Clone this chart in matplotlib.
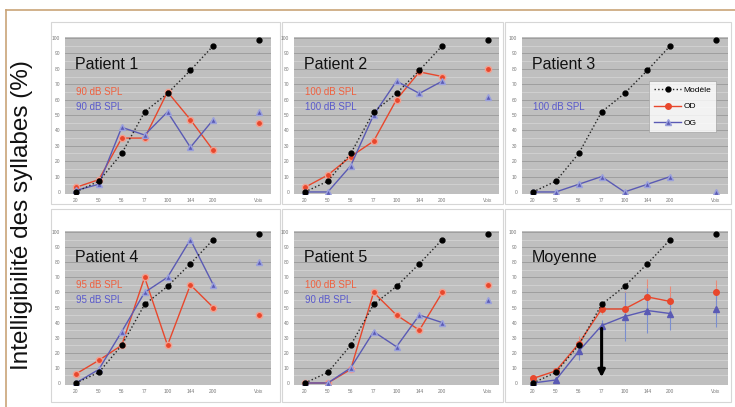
import matplotlib
matplotlib.use("Agg")
import matplotlib.pyplot as plt
import matplotlib.patches as patches
import numpy as np

plt.rcParams['font.family'] = ['Liberation Sans', 'DejaVu Sans']

nan = np.nan

# x categories (index 7 is an empty slot before the last column)
x_labels = ['20', '50', '56', '77', '100', '144', '200', '', 'Voix']
x_pos = np.arange(len(x_labels))
tick_pos = [0, 1, 2, 3, 4, 5, 6, 8]
tick_labels = ['20', '50', '56', '77', '100', '144', '200', 'Voix']

model = [0, 7, 25, 52, 64, 79, 95, nan, 99]

p1_od = [3, 8, 35, 35, 65, 47, 27, nan, 45]
p1_og = [1, 5, 42, 37, 52, 29, 47, nan, 52]
p2_od = [3, 11, 23, 33, 60, 78, 75, nan, 80]
p2_og = [0, 0, 17, 50, 72, 64, 72, nan, 62]
p3_og = [0, 0, 5, 10, 0, 5, 10, nan, 0]
p4_od = [6, 15, 25, 70, 25, 65, 50, nan, 45]
p4_og = [0, 9, 34, 60, 70, 95, 65, nan, 80]
p5_od = [0, 0, 9, 60, 45, 35, 60, nan, 65]
p5_og = [0, 0, 10, 34, 24, 45, 40, nan, 55]
avg_od = [3, 8, 26, 49, 49, 57, 54, nan, 60]
avg_og = [0, 2, 21, 38, 44, 48, 46, nan, 49]
avg_od_err = [1, 2, 5, 3, 12, 12, 10, nan, 8]
avg_og_err = [1, 2, 6, 4, 16, 15, 11, nan, 12]

arrow_x = 3
arrow_from = 38
arrow_to = 2

panels = [
    ('Patient 1', p1_od, p1_og, '90 dB SPL', '90 dB SPL'),
    ('Patient 2', p2_od, p2_og, '100 dB SPL', '100 dB SPL'),
    ('Patient 3', None, p3_og, None, '100 dB SPL'),
    ('Patient 4', p4_od, p4_og, '95 dB SPL', '95 dB SPL'),
    ('Patient 5', p5_od, p5_og, '100 dB SPL', '90 dB SPL'),
    ('Moyenne', avg_od, avg_og, None, None),
]

RED = '#e8472c'
BLUE = '#5a5ab4'
W, H = 735, 407

fig = plt.figure(figsize=(W / 100, H / 100), dpi=100, facecolor='white')


def fig_rect(x0, y0, x1, y1):
    """Pixel box (top-left origin) -> figure fraction rect."""
    return [x0 / W, 1 - y1 / H, (x1 - x0) / W, (y1 - y0) / H]


# outer frame (left + top)
fig.add_artist(plt.Line2D([6 / W, 6 / W], [0, 1 - 10 / H], color='#c9a478',
                          lw=1.2, transform=fig.transFigure, zorder=-2))
fig.add_artist(plt.Line2D([6 / W, 1], [1 - 10 / H, 1 - 10 / H], color='#c9a478',
                          lw=1.2, transform=fig.transFigure, zorder=-2))

box_cols = [(51, 280), (282, 503), (505, 731)]
box_rows = [(22, 204), (209, 402)]
for (by0, by1) in box_rows:
    for (bx0, bx1) in box_cols:
        r = fig_rect(bx0, by0, bx1, by1)
        fig.add_artist(patches.Rectangle((r[0], r[1]), r[2], r[3],
                                         transform=fig.transFigure,
                                         facecolor='white', edgecolor='#d6d6d6',
                                         lw=0.8, zorder=-1))

ax_cols = [(64.5, 270.5), (293.5, 499.5), (521.5, 727.5)]
ax_rows = [(36.5, 193.5), (230.5, 384.5)]

for i, (title, od, og, od_txt, og_txt) in enumerate(panels):
    cx0, cx1 = ax_cols[i % 3]
    ry0, ry1 = ax_rows[i // 3]
    ax = fig.add_axes(fig_rect(cx0, ry0, cx1, ry1))
    ax.set_facecolor('#bfbfbf')
    ax.set_xlim(-0.5, 8.5)
    ax.set_ylim(-1, 101)
    for s in ax.spines.values():
        s.set_visible(False)
    ax.set_yticks(np.arange(0, 101, 10))
    ax.set_yticklabels([str(v) for v in range(0, 101, 10)])
    ax.set_xticks(tick_pos)
    ax.set_xticklabels(tick_labels)
    ax.tick_params(length=0, labelsize=3.5, labelcolor='#777777', pad=3)
    for yv in np.arange(5, 101, 10):
        ax.axhline(yv, color='#d0d0d0', lw=0.7, zorder=0)
    for yv in np.arange(10, 101, 10):
        ax.axhline(yv, color='#999999', lw=0.6, zorder=0)

    ax.plot(x_pos, model, ls=':', color='#222222', lw=1.0, marker='o',
            ms=3.5, mfc='black', mec='black', zorder=4, label='Modèle')

    if title == 'Moyenne':
        ax.errorbar(x_pos, od, yerr=avg_od_err, color=RED, lw=1.0, marker='o',
                    ms=4, ecolor='#e88a78', elinewidth=0.8, capsize=0, zorder=3)
        ax.errorbar(x_pos, og, yerr=avg_og_err, color=BLUE, lw=1.0, marker='^',
                    ms=4, ecolor='#7a8ed0', elinewidth=0.8, capsize=0, zorder=3)
        ax.annotate('', xy=(arrow_x, arrow_to), xytext=(arrow_x, arrow_from),
                    arrowprops=dict(arrowstyle='-|>', color='black', lw=2.2,
                                    mutation_scale=10), zorder=6)
    else:
        if od is not None:
            ax.plot(x_pos, od, color=RED, lw=1.0, marker='o', ms=4.5,
                    mfc=RED, mec='#f2a090', zorder=3, label='OD')
        else:
            ax.plot([], [], color=RED, lw=1.0, marker='o', ms=4, label='OD')
        ax.plot(x_pos, og, color=BLUE, lw=1.0, marker='^', ms=4.5,
                mfc=BLUE, mec='#9aa0dd', zorder=3, label='OG')

    ax.text(-0.05, 80, title, fontsize=11.5, color='#111111', va='baseline',
            ha='left', zorder=5)
    if od_txt:
        ax.text(0, 65, od_txt, fontsize=7, color='#f0603f', va='center',
                ha='left', zorder=5)
    if og_txt:
        ax.text(0, 55, og_txt, fontsize=7, color='#5a5acc', va='center',
                ha='left', zorder=5)

    if title == 'Patient 3':
        leg = ax.legend(loc='upper left', bbox_to_anchor=(0.6, 0.74),
                        fontsize=6, frameon=True, fancybox=False,
                        handlelength=3.2, borderpad=0.6, labelspacing=1.0,
                        handletextpad=0.3)
        leg.get_frame().set_edgecolor('#999999')
        leg.get_frame().set_linewidth(0.5)

fig.text(22 / W, 1 - 215 / H, 'Intelligibilité des syllabes (%)', rotation=90,
         fontsize=17.5, ha='center', va='center', color='#111111')

fig.savefig('out.png', dpi=100, facecolor='white')
